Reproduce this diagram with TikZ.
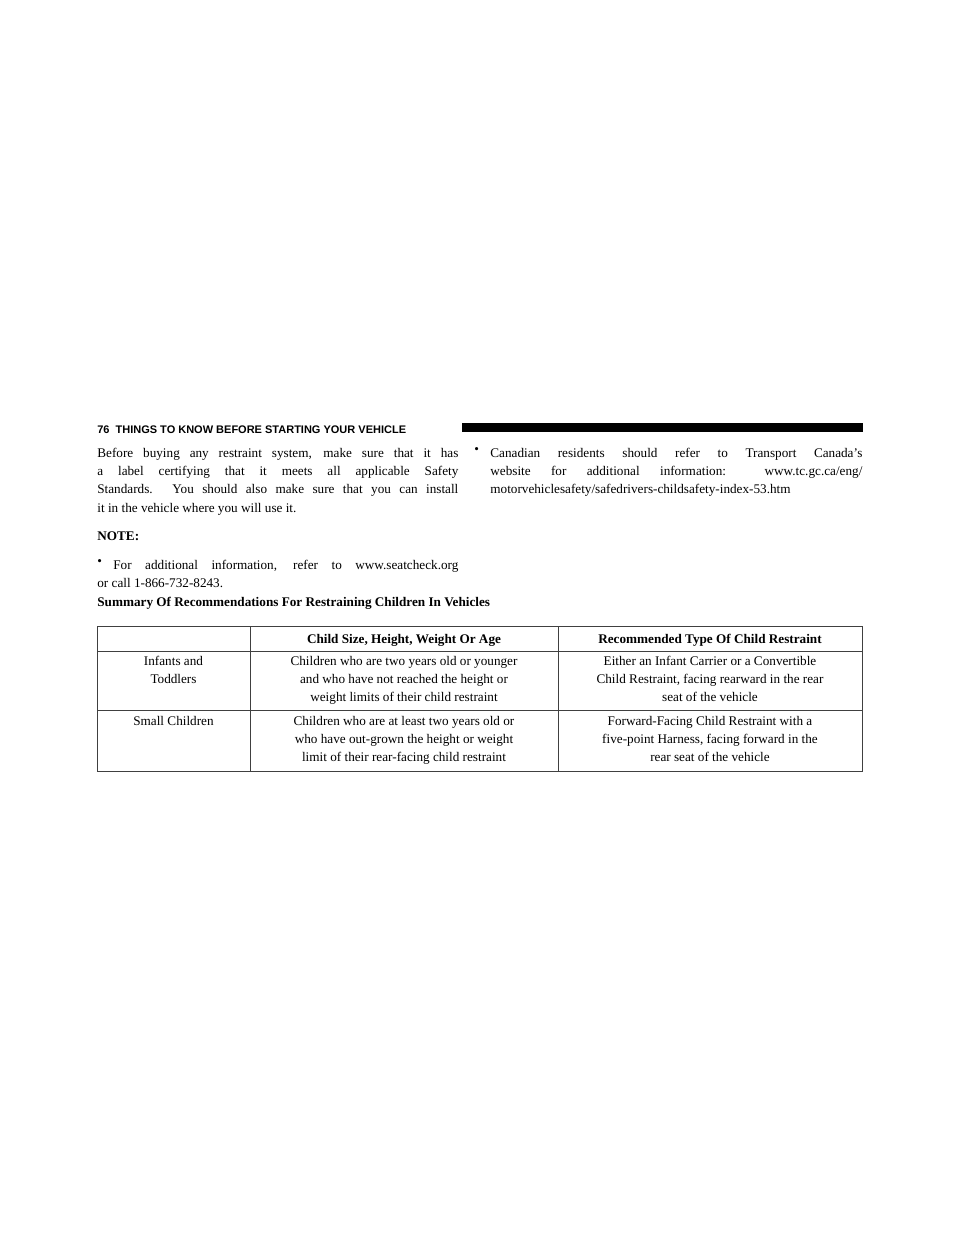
\documentclass[tikz,border=0pt]{standalone}
\usepackage{fontspec}
\setmainfont{Liberation Serif}
\newfontfamily\hdfont{Liberation Sans}
\tikzset{every picture/.style={line width=0.75pt}}
\tikzset{
  bodytxt/.style={anchor=north west,inner sep=0pt,font=\fontsize{13.2}{18.3}\selectfont},
  celltxt/.style={anchor=north,inner sep=0pt,align=center,font=\fontsize{13.2}{18}\selectfont},
  rule/.style={draw=black!75,line width=1pt}
}
\begin{document}
\begin{tikzpicture}[x=1pt,y=1pt,yscale=-1,xscale=1]
\useasboundingbox (0,0) rectangle (960,1242);

% Header
\node (hd) at (97,433) [anchor=base west,inner sep=0pt,font=\hdfont\bfseries\fontsize{11}{13}\selectfont] {76\hspace{6pt}THINGS TO KNOW BEFORE STARTING YOUR VEHICLE};
\fill (462,423) rectangle (863,432);

% Left column
\node (intro) at (97,447.5) [bodytxt,text width=361pt,align=justify] {Before buying any restraint system, make sure that it has\linebreak a label certifying that it meets all applicable Safety\linebreak Standards. You should also make sure that you can install\linebreak it in the vehicle where you will use it.};
\node (note) at (97,531.5) [bodytxt,font=\bfseries\fontsize{13.2}{18.3}\selectfont] {NOTE:};
\node (b1) at (97,559.5) [bodytxt] {\textbullet};
\node (seat) at (113,559.5) [bodytxt,text width=345pt,align=justify] {For additional information, refer to www.seatcheck.org\linebreak \hspace*{-16pt}or call 1-866-732-8243.};

% Right column
\node (b2) at (474,447.5) [bodytxt] {\textbullet};
\node (canada) at (490,447.5) [bodytxt,text width=372pt,align=justify] {Canadian residents should refer to Transport Canada's\linebreak website for additional information: www.tc.gc.ca/eng/\linebreak motorvehiclesafety/safedrivers-childsafety-index-53.htm};

% Table
\node (title) at (97,606) [anchor=base west,inner sep=0pt,font=\bfseries\fontsize{13.2}{18}\selectfont] {Summary Of Recommendations For Restraining Children In Vehicles};
\draw [rule] (97,626) rectangle (862,771);
\draw [rule] (97,651) -- (862,651);
\draw [rule] (97,710) -- (862,710);
\draw [rule] (250,626) -- (250,771);
\draw [rule] (558,626) -- (558,771);

\node (h2) at (404,633.5) [celltxt,font=\bfseries\fontsize{13.2}{18}\selectfont] {Child Size, Height, Weight Or Age};
\node (h3) at (710,633.5) [celltxt,font=\bfseries\fontsize{13.2}{18}\selectfont] {Recommended Type Of Child Restraint};

\node (r1a) at (173.5,655.5) [celltxt] {Infants and\\Toddlers};
\node (r1b) at (404,655.5) [celltxt] {Children who are two years old or younger\\and who have not reached the height or\\weight limits of their child restraint};
\node (r1c) at (710,655.5) [celltxt] {Either an Infant Carrier or a Convertible\\Child Restraint, facing rearward in the rear\\seat of the vehicle};

\node (r2a) at (173.5,715.5) [celltxt] {Small Children};
\node (r2b) at (404,715.5) [celltxt] {Children who are at least two years old or\\who have out-grown the height or weight\\limit of their rear-facing child restraint};
\node (r2c) at (710,715.5) [celltxt] {Forward-Facing Child Restraint with a\\five-point Harness, facing forward in the\\rear seat of the vehicle};

\end{tikzpicture}
\end{document}
